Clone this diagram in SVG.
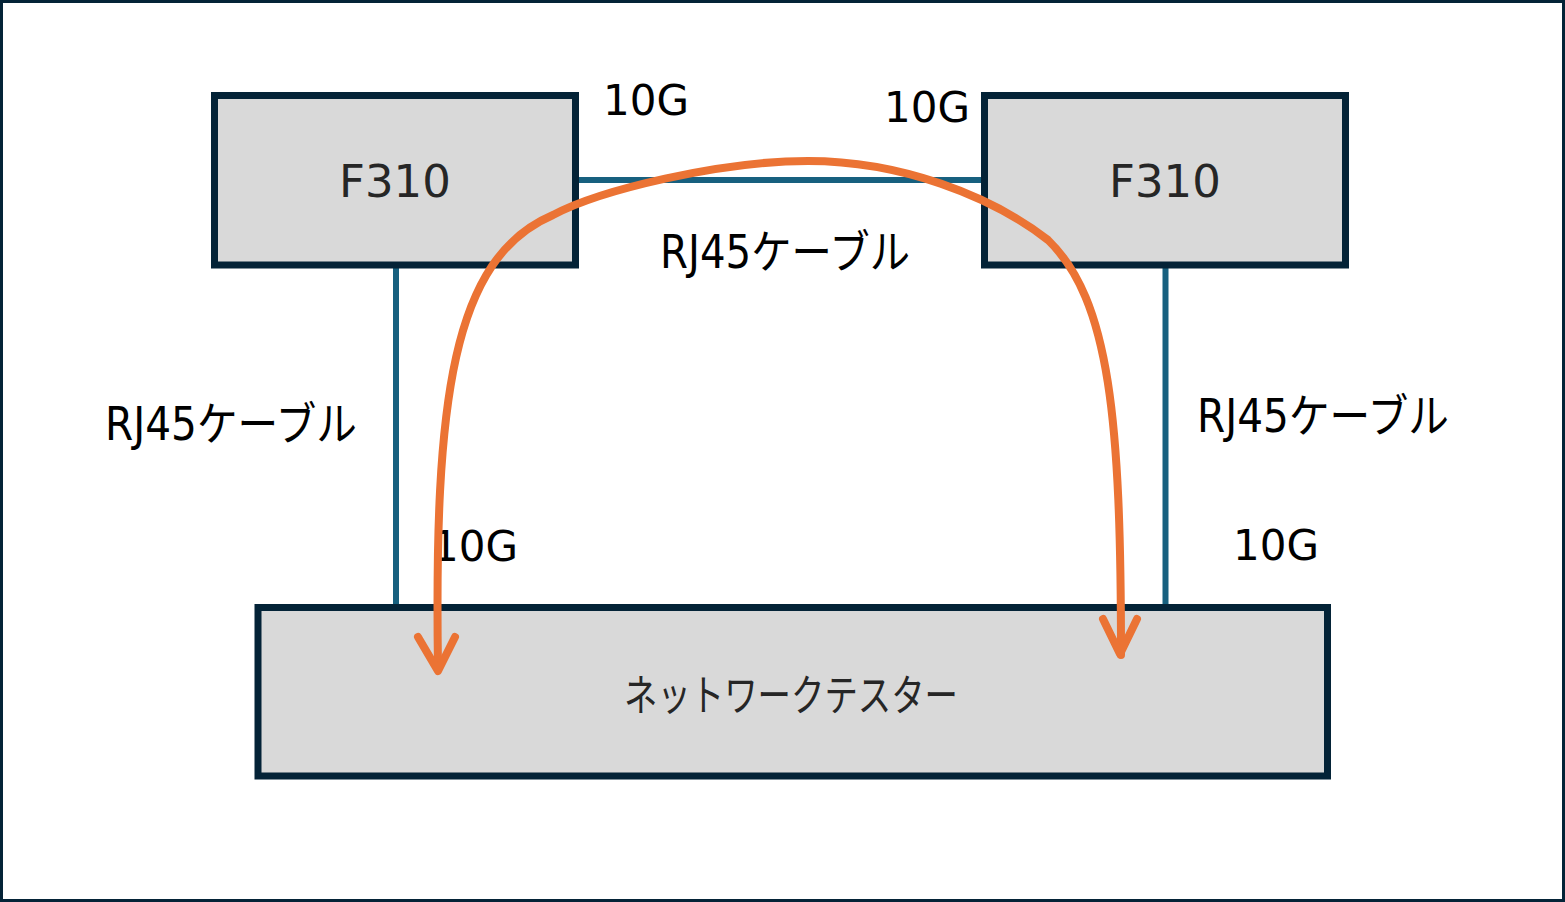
<svg xmlns="http://www.w3.org/2000/svg" width="1565" height="902" viewBox="0 0 1565 902">
<style>
.box{fill:#D9D9D9;stroke:#042337;stroke-width:7}
.wire{stroke:#17607F;stroke-width:6;fill:none}
.flow{stroke:#EB7334;stroke-width:8;fill:none;stroke-linecap:round;stroke-linejoin:round}
.lbl{font-family:"DejaVu Sans","Noto Sans CJK JP",sans-serif;fill:#000}
.nt{font-family:"DejaVu Sans","Noto Sans CJK JP",sans-serif;fill:#262626}
</style>
<rect x="1.5" y="1.5" width="1562" height="899" fill="#FFFFFF" stroke="#042337" stroke-width="3"/>
<g id="connectors">
<line class="wire" x1="579" y1="180" x2="981" y2="180"/>
<line class="wire" x1="396" y1="268" x2="396" y2="617"/>
<line class="wire" x1="1165.5" y1="268" x2="1165.5" y2="608"/>
</g>
<g id="node-f310-left">
<rect class="box" x="214.5" y="95.5" width="361" height="169.5"/>
<text class="nt" x="395" y="197" font-size="45" text-anchor="middle">F310</text>
</g>
<g id="node-f310-right">
<rect class="box" x="984.5" y="95.5" width="361" height="169.5"/>
<text class="nt" x="1165" y="197" font-size="45" text-anchor="middle">F310</text>
</g>
<g id="node-tester">
<rect class="box" x="258" y="607.5" width="1069.5" height="168.5"/>
<text class="nt" x="624" y="711" font-size="43" textLength="334" lengthAdjust="spacingAndGlyphs">ネットワークテスター</text>
</g>
<g id="labels">
<text class="lbl" x="603" y="115" font-size="43" textLength="86" lengthAdjust="spacingAndGlyphs">10G</text>
<text class="lbl" x="884" y="122" font-size="43" textLength="86" lengthAdjust="spacingAndGlyphs">10G</text>
<text class="lbl" x="432" y="561" font-size="43" textLength="86" lengthAdjust="spacingAndGlyphs">10G</text>
<text class="lbl" x="1233" y="560" font-size="43" textLength="86" lengthAdjust="spacingAndGlyphs">10G</text>
<text class="lbl" x="660" y="268" font-size="46" textLength="250" lengthAdjust="spacingAndGlyphs">RJ45ケーブル</text>
<text class="lbl" x="105" y="440" font-size="46" textLength="252" lengthAdjust="spacingAndGlyphs">RJ45ケーブル</text>
<text class="lbl" x="1197" y="432" font-size="46" textLength="252" lengthAdjust="spacingAndGlyphs">RJ45ケーブル</text>
</g>
<g id="flow">
<path class="flow" d="M438,668 C434,400 452,258 553,215 C600,190 720,161 808,161 C900,161 990,195 1048,240 C1110,300 1121,420 1121,655"/>
<polyline class="flow" points="418,637 438,671 455,637"/>
<polyline class="flow" points="1103,619 1120,654 1137,619"/>
</g>
</svg>
